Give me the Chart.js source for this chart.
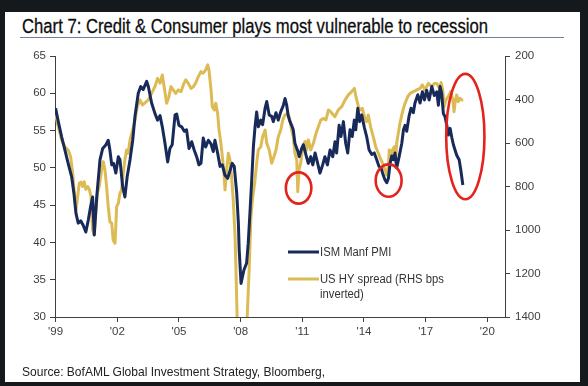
<!DOCTYPE html>
<html>
<head>
<meta charset="utf-8">
<script src="https://cdn.jsdelivr.net/npm/chart.js@4.4.1/dist/chart.umd.min.js"></script>
<style>
  body { margin: 0; background: #16191c; width: 588px; height: 386px; overflow: hidden; }
  #panel { position: absolute; left: 5px; top: 12px; width: 575px; height: 370px; background: #fff; }
  #title { position: absolute; left: 22px; top: 15px; font: 20.5px "Liberation Sans Narrow", "Liberation Sans", Arial, sans-serif; color: #0d0d0d; white-space: nowrap; transform-origin: 0 0; line-height: 21px; -webkit-text-stroke: 0.3px #0d0d0d; }
  #rule { position: absolute; left: 20px; top: 37px; width: 544px; height: 0; border-top: 1px solid #6d7f99; }
  #source { position: absolute; left: 22px; top: 364px; font: 13px "Liberation Sans", Arial, sans-serif; color: #222; white-space: nowrap; transform-origin: 0 0; line-height: 15px; }
  #myChart { position: absolute; left: 0; top: 0; }
</style>
</head>
<body>
<div id="panel"></div>
<div id="title">Chart 7: Credit &amp; Consumer plays most vulnerable to recession</div>
<div id="rule"></div>
<canvas id="myChart" width="588" height="386"></canvas>
<div id="source">Source: BofAML Global Investment Strategy, Bloomberg,</div>
<script>
// ISM Manufacturing PMI (left axis), decimal years as plotted
var pmiYears = [
    1999.00, 1999.13, 1999.29, 1999.45, 1999.61, 1999.78, 1999.89, 1999.99, 2000.10, 2000.22,
    2000.34, 2000.47, 2000.59, 2000.70, 2000.80, 2000.88, 2001.00, 2001.16, 2001.29, 2001.45,
    2001.56, 2001.64, 2001.73, 2001.82, 2001.93, 2002.05, 2002.13, 2002.26, 2002.37, 2002.48,
    2002.62, 2002.75, 2002.86, 2003.02, 2003.14, 2003.26, 2003.43, 2003.51, 2003.67, 2003.83,
    2003.96, 2004.08, 2004.19, 2004.32, 2004.45, 2004.56, 2004.67, 2004.81, 2004.89, 2005.00,
    2005.13, 2005.26, 2005.37, 2005.49, 2005.62, 2005.74, 2005.86, 2005.97, 2006.07, 2006.18,
    2006.30, 2006.43, 2006.56, 2006.67, 2006.75, 2006.88, 2007.00, 2007.11, 2007.24, 2007.37,
    2007.48, 2007.59, 2007.69, 2007.81, 2007.89, 2007.93, 2008.02, 2008.16, 2008.29, 2008.37,
    2008.46, 2008.54, 2008.62, 2008.70, 2008.78, 2008.86, 2008.98, 2009.07, 2009.19, 2009.27,
    2009.39, 2009.51, 2009.59, 2009.72, 2009.83, 2009.95, 2010.08, 2010.16, 2010.24, 2010.32,
    2010.40, 2010.48, 2010.56, 2010.64, 2010.76, 2010.85, 2010.97, 2011.05, 2011.18, 2011.29,
    2011.41, 2011.51, 2011.62, 2011.73, 2011.86, 2011.99, 2012.10, 2012.22, 2012.35, 2012.48,
    2012.59, 2012.67, 2012.79, 2012.88, 2013.00, 2013.11, 2013.21, 2013.32, 2013.43, 2013.53,
    2013.60, 2013.70, 2013.79, 2013.89, 2014.02, 2014.13, 2014.25, 2014.38, 2014.50, 2014.62,
    2014.73, 2014.83, 2014.94, 2015.02, 2015.11, 2015.19, 2015.27, 2015.35, 2015.43, 2015.51,
    2015.59, 2015.71, 2015.84, 2015.92, 2016.00, 2016.08, 2016.19, 2016.29, 2016.40, 2016.48,
    2016.62, 2016.73, 2016.84, 2016.94, 2017.05, 2017.17, 2017.30, 2017.42, 2017.54, 2017.62,
    2017.70, 2017.78, 2017.86, 2017.94, 2018.03, 2018.10, 2018.19, 2018.27, 2018.35, 2018.43,
    2018.51, 2018.63, 2018.71, 2018.81
];
var pmiValues = [
    58.0, 56.2, 54.2, 52.4, 50.6, 48.8, 46.6, 43.9, 42.6, 42.9,
    42.3, 41.4, 43.0, 44.8, 46.1, 41.0, 46.1, 51.1, 52.6, 53.1,
    53.7, 52.4, 50.4, 50.6, 49.3, 51.5, 51.1, 47.5, 46.1, 48.8,
    51.1, 53.7, 56.9, 60.0, 60.9, 60.5, 61.6, 60.9, 58.7, 57.3,
    56.4, 57.0, 55.5, 53.3, 50.8, 52.6, 53.1, 57.1, 57.2, 55.7,
    55.5, 54.9, 55.1, 52.6, 53.5, 52.4, 51.5, 50.4, 50.6, 54.0,
    52.8, 53.7, 53.2, 52.2, 53.7, 52.0, 50.2, 50.4, 49.0, 48.6,
    49.6, 50.6, 50.2, 46.6, 42.6, 39.0, 34.5, 36.3, 37.2, 39.9,
    44.3, 48.4, 52.8, 55.5, 57.5, 55.5, 56.4, 55.8, 58.0, 58.9,
    57.1, 56.9, 56.2, 57.4, 56.4, 57.5, 58.4, 59.3, 58.4, 56.9,
    56.2, 55.7, 55.1, 53.3, 52.4, 51.5, 52.6, 53.1, 51.7, 50.6,
    51.5, 50.4, 52.0, 50.8, 49.3, 50.4, 51.5, 50.4, 52.4, 51.5,
    53.5, 52.0, 55.7, 54.2, 56.2, 53.3, 52.0, 55.1, 54.2, 56.4,
    55.1, 58.0, 56.2, 57.1, 55.4, 54.2, 52.4, 51.8, 52.0, 51.1,
    50.2, 50.0, 49.0, 48.4, 48.0, 48.6, 50.6, 51.6, 51.1, 52.0,
    50.0, 51.5, 53.3, 55.1, 55.7, 54.9, 56.9, 58.0, 57.4, 58.7,
    59.8, 58.7, 60.2, 59.1, 60.4, 59.1, 60.9, 59.7, 60.2, 58.4,
    60.9, 60.0, 57.3, 56.9, 55.7, 54.4, 55.3, 54.1, 53.1, 52.4,
    51.7, 51.1, 49.7, 47.7
];

// US high-yield spread, bps (right axis, inverted)
var hyYears = [
    1999.00, 1999.13, 1999.29, 1999.45, 1999.61, 1999.73, 1999.83, 1999.91, 1999.99, 2000.07,
    2000.15, 2000.23, 2000.31, 2000.39, 2000.47, 2000.56, 2000.64, 2000.72, 2000.80, 2000.88,
    2000.96, 2001.04, 2001.12, 2001.24, 2001.32, 2001.40, 2001.48, 2001.56, 2001.64, 2001.73,
    2001.80, 2001.89, 2001.97, 2002.05, 2002.13, 2002.21, 2002.29, 2002.37, 2002.45, 2002.53,
    2002.62, 2002.75, 2002.86, 2002.97, 2003.10, 2003.23, 2003.35, 2003.51, 2003.67, 2003.83,
    2003.96, 2004.08, 2004.19, 2004.28, 2004.40, 2004.51, 2004.61, 2004.72, 2004.84, 2004.97,
    2005.10, 2005.21, 2005.33, 2005.45, 2005.58, 2005.70, 2005.81, 2005.94, 2006.07, 2006.18,
    2006.30, 2006.40, 2006.46, 2006.56, 2006.62, 2006.72, 2006.79, 2006.88, 2006.95, 2007.04,
    2007.11, 2007.18, 2007.24, 2007.32, 2007.40, 2007.48, 2007.56, 2007.64, 2007.73, 2007.79,
    2007.84, 2007.95, 2008.05, 2008.15, 2008.25, 2008.32, 2008.42, 2008.50, 2008.59, 2008.70,
    2008.78, 2008.86, 2008.98, 2009.07, 2009.19, 2009.27, 2009.39, 2009.51, 2009.62, 2009.72,
    2009.83, 2009.95, 2010.05, 2010.16, 2010.27, 2010.37, 2010.48, 2010.56, 2010.64, 2010.73,
    2010.78, 2010.84, 2010.92, 2011.02, 2011.13, 2011.21, 2011.29, 2011.41, 2011.54, 2011.67,
    2011.78, 2011.90, 2012.02, 2012.15, 2012.27, 2012.38, 2012.51, 2012.59, 2012.75, 2012.92,
    2013.08, 2013.24, 2013.40, 2013.53, 2013.61, 2013.73, 2013.81, 2013.92, 2014.02, 2014.13,
    2014.21, 2014.34, 2014.45, 2014.57, 2014.70, 2014.83, 2014.94, 2015.02, 2015.11, 2015.19,
    2015.23, 2015.32, 2015.38, 2015.48, 2015.55, 2015.59, 2015.67, 2015.75, 2015.84, 2015.92,
    2016.00, 2016.13, 2016.24, 2016.40, 2016.57, 2016.73, 2016.84, 2016.97, 2017.13, 2017.30,
    2017.42, 2017.54, 2017.67, 2017.75, 2017.83, 2017.90, 2017.99, 2018.10, 2018.22, 2018.32,
    2018.38, 2018.45, 2018.51, 2018.59, 2018.67, 2018.76, 2018.83
];
var hyValues = [
    471, 525, 586, 617, 632, 663, 739, 831, 908, 847,
    785, 780, 800, 778, 813, 800, 813, 847, 1000, 1023,
    908, 831, 800, 724, 686, 724, 801, 893, 962, 969,
    1046, 1061, 893, 877, 831, 816, 739, 678, 632, 647,
    586, 540, 494, 433, 402, 425, 415, 402, 372, 341,
    303, 325, 287, 341, 417, 387, 341, 356, 372, 356,
    364, 333, 310, 325, 349, 341, 325, 295, 272, 279,
    264, 241, 264, 356, 433, 448, 417, 463, 540, 601,
    663, 724, 816, 724, 647, 678, 755, 862, 1031, 1245,
    1450, 1700, 1850, 1750, 1550, 1399, 1169, 939, 847, 770,
    693, 632, 617, 571, 540, 601, 632, 693, 663, 632,
    571, 540, 494, 471, 464, 479, 540, 571, 647, 678,
    824, 724, 693, 617, 593, 632, 586, 632, 601, 555,
    525, 494, 487, 494, 448, 456, 471, 479, 448, 433,
    402, 379, 364, 349, 387, 433, 448, 441, 479, 502,
    471, 533, 571, 617, 647, 678, 701, 724, 747, 701,
    632, 663, 632, 617, 663, 601, 555, 509, 471, 441,
    417, 387, 372, 364, 356, 349, 333, 356, 326, 341,
    326, 326, 349, 322, 356, 433, 402, 387, 364, 402,
    456, 402, 379, 410, 395, 402, 402
];

var tickYears = [1999, 2002, 2005, 2008, 2011, 2014, 2017, 2020];

// red rings drawn on the chart, in data units (year, PMI)
var rings = [
    { year: 2010.82, pmi: 47.3, halfYears: 0.62, halfPmi: 2.1 },
    { year: 2015.20, pmi: 48.3, halfYears: 0.63, halfPmi: 2.17 },
    { year: 2018.93, pmi: 54.2, halfYears: 0.93, halfPmi: 8.4 }
];

function toPoints(xs, ys) {
    return xs.map(function (x, i) { return { x: x, y: ys[i] }; });
}

var axisColor = '#404040';
var tickFont = { family: "'Liberation Sans', Arial, sans-serif", size: 11.5 };

var ringPlugin = {
    id: 'rings',
    afterDatasetsDraw: function (chart) {
        var c = chart.ctx, xs = chart.scales.x, ys = chart.scales.y;
        c.save();
        c.strokeStyle = '#e3231c';
        c.lineWidth = 2.6;
        rings.forEach(function (r) {
            var cx = xs.getPixelForValue(r.year), cy = ys.getPixelForValue(r.pmi);
            var rx = Math.abs(xs.getPixelForValue(r.year + r.halfYears) - cx);
            var ry = Math.abs(ys.getPixelForValue(r.pmi + r.halfPmi) - cy);
            c.beginPath();
            c.ellipse(cx, cy, rx, ry, 0, 0, Math.PI * 2);
            c.stroke();
        });
        c.restore();
    }
};

var legendPlugin = {
    id: 'insideLegend',
    afterDraw: function (chart) {
        var c = chart.ctx;
        var items = [
            { color: '#172a5a', y: 252, lines: ['ISM Manf PMI'] },
            { color: '#dcbb55', y: 279, lines: ['US HY spread (RHS bps', 'inverted)'] }
        ];
        c.save();
        c.font = "12.5px 'Liberation Sans', Arial, sans-serif";
        c.fillStyle = '#333';
        c.textBaseline = 'middle';
        items.forEach(function (it) {
            c.strokeStyle = it.color;
            c.lineWidth = 3;
            c.beginPath();
            c.moveTo(288, it.y);
            c.lineTo(319, it.y);
            c.stroke();
            it.lines.forEach(function (t, i) {
                c.save();
                c.translate(320, it.y + 1 + i * 15);
                c.scale(0.9, 1);
                c.fillText(t, 0, 0);
                c.restore();
            });
        });
        c.restore();
    }
};

var ctx = document.getElementById('myChart');
var myChart = new Chart(ctx, {
    type: 'line',
    data: {
        datasets: [{
            label: 'ISM Manf PMI',
            data: toPoints(pmiYears, pmiValues),
            borderColor: '#172a5a',
            borderWidth: 3,
            yAxisID: 'y'
        }, {
            label: 'US HY spread (RHS bps inverted)',
            data: toPoints(hyYears, hyValues),
            borderColor: '#dcbb55',
            borderWidth: 3,
            yAxisID: 'y2'
        }]
    },
    options: {
        responsive: false,
        animation: false,
        events: [],
        parsing: false,
        elements: {
            point: { radius: 0 },
            line: { tension: 0, borderJoinStyle: 'round' }
        },
        layout: {
            padding: { left: 0, right: 0, top: 56, bottom: 0 }
        },
        plugins: {
            legend: { display: false },
            tooltip: { enabled: false }
        },
        scales: {
            x: {
                type: 'linear',
                min: 1998.97,
                max: 2020.86,
                afterBuildTicks: function (scale) {
                    scale.ticks = tickYears.map(function (v) { return { value: v }; });
                },
                afterFit: function (scale) { scale.height = 69; },
                grid: { drawOnChartArea: false, drawTicks: true, tickLength: 5, color: axisColor },
                border: { display: true, color: axisColor },
                ticks: {
                    font: tickFont,
                    color: axisColor,
                    padding: 3,
                    maxRotation: 0,
                    autoSkip: false,
                    callback: function (v) { return "'" + String(v).slice(2); }
                }
            },
            y: {
                position: 'left',
                min: 30,
                max: 65,
                afterFit: function (scale) { scale.width = 55; },
                grid: { drawOnChartArea: false, drawTicks: true, tickLength: 5, color: axisColor },
                border: { display: true, color: axisColor },
                ticks: { stepSize: 5, font: tickFont, color: axisColor, padding: 4 }
            },
            y2: {
                position: 'right',
                min: 200,
                max: 1400,
                reverse: true,
                afterFit: function (scale) { scale.width = 83; },
                grid: { drawOnChartArea: false, drawTicks: true, tickLength: 5, color: axisColor },
                border: { display: true, color: axisColor },
                ticks: {
                    stepSize: 200, font: tickFont, color: axisColor, padding: 5,
                    callback: function (v) { return String(v); }
                }
            }
        }
    },
    plugins: [ringPlugin, legendPlugin]
});

function fitWidth(id, target) {
    var el = document.getElementById(id);
    var w = el.getBoundingClientRect().width;
    el.style.transform = 'scaleX(' + (target / w) + ')';
}
fitWidth('title', 466);
fitWidth('source', 303);
</script>
</body>
</html>
